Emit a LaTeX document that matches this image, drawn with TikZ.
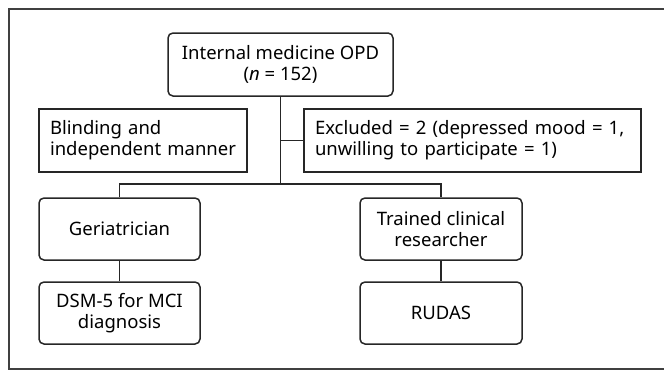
\documentclass[tikz,border=0pt]{standalone}
\usepackage{fontspec}
\setmainfont{Noto Sans}
\begin{document}
\begin{tikzpicture}[x=1pt,y=-1pt,
  every node/.style={font=\fontsize{18.5}{21}\selectfont, text=black},
  rbox/.style={draw=black!85, line width=1.5pt, rounded corners=5pt, minimum height=62pt, align=center, inner sep=0pt},
  sbox/.style={draw=black!85, line width=1.5pt, minimum height=63pt, align=left, inner sep=0pt},
  conn/.style={draw=black!85, line width=1.5pt}]
\useasboundingbox (0,0) rectangle (664,370);
\draw[black!75, line width=1.4pt] (680,9) -- (9,9) -- (9,369) -- (680,369);
\node[rbox, minimum width=225pt, minimum height=63pt] (top) at (280.5,64.5) {Internal medicine OPD\\(\textit{n} = 152)};
\node[sbox, minimum width=208pt, text width=186pt] (blind) at (143,140.5) {Blinding and\\independent manner};
\node[sbox, minimum width=337pt, text width=315pt] (excl) at (472.5,140.5) {Excluded = 2 (depressed mood = 1,\\unwilling to participate = 1)};
\node[rbox, minimum width=161pt] (ger) at (119.5,229) {Geriatrician};
\node[rbox, minimum width=162pt] (tr) at (441,229) {Trained clinical\\researcher};
\node[rbox, minimum width=161pt] (dsm) at (119.5,313) {DSM-5 for MCI\\diagnosis};
\node[rbox, minimum width=162pt] (rudas) at (441,313) {RUDAS};
\coordinate (hub) at (280.5,184);
\coordinate (hubE) at (280.5,140.5);
\draw[conn] (top.south) -- (hub);
\draw[conn] (hubE) -- (excl.west);
\draw[conn] (ger.north) |- (hub) -| (tr.north);
\draw[conn] (ger.south) -- (dsm.north);
\draw[conn] (tr.south) -- (rudas.north);
\end{tikzpicture}
\end{document}
